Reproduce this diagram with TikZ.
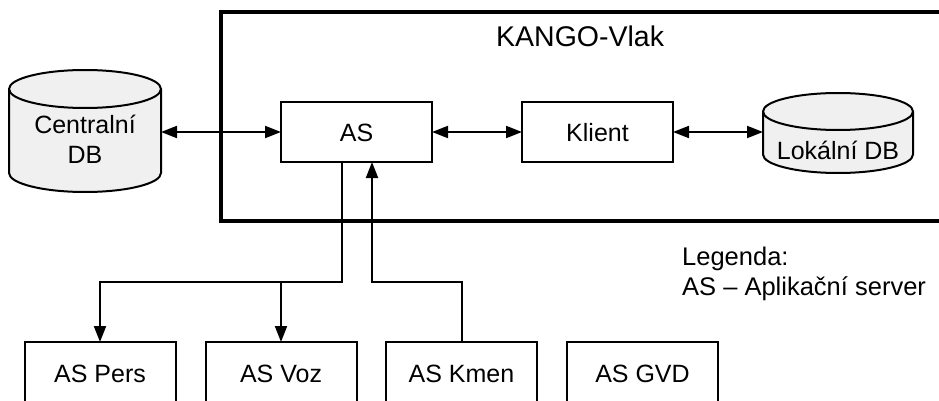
\documentclass[tikz,border=0pt]{standalone}
\usepackage{fontspec}
\setmainfont{Liberation Sans}
\usetikzlibrary{arrows.meta}
\definecolor{dbgray}{HTML}{F0F0F0}
\tikzset{
  box/.style={draw, line width=2pt, minimum width=151pt, minimum height=60pt, inner sep=0pt, outer sep=0pt,
    font=\fontsize{25}{30}\selectfont, text height=18pt, text depth=0pt},
  lowbox/.style={box, minimum height=62pt},
  conn/.style={line width=2pt},
  arr/.style={conn, -{Triangle[length=16pt,width=12pt]}},
  darr/.style={conn, {Triangle[length=16pt,width=12pt]}-{Triangle[length=16pt,width=12pt]}},
  dbshape/.style={draw, line width=2pt, fill=dbgray},
  lbl/.style={inner sep=0pt, font=\fontsize{25}{30}\selectfont},
}
\begin{document}
\begin{tikzpicture}[x=1pt,y=1pt]
\useasboundingbox (0,0) rectangle (939,-401);
\clip (0,0) rectangle (939,-401);
\fill[white] (0,0) rectangle (939,-401);

% KANGO-Vlak frame
\node[draw, line width=4pt, minimum width=760pt, minimum height=209.5pt, inner sep=0pt, outer sep=0pt]
  (kango) at (600.7,-116.7) {};
\node[inner sep=0pt, anchor=base west, font=\fontsize{28.5}{34}\selectfont] (kangolbl) at (496,-47) {KANGO-Vlak};

% Central DB cylinder
\draw[dbshape] (9,-89) -- (9,-173) arc[start angle=180, end angle=360, x radius=76, y radius=19]
  -- (161,-89) arc[start angle=0, end angle=180, x radius=76, y radius=19] -- cycle;
\draw[line width=2pt] (9,-89) arc[start angle=180, end angle=360, x radius=76, y radius=19];
\node[minimum width=152pt, minimum height=123pt, inner sep=0pt, outer sep=0pt] (cdb) at (85,-131.5) {};
\node[lbl, anchor=base] (cdbt1) at (85,-133) {Centralní};
\node[lbl, anchor=base] (cdbt2) at (85,-163) {DB};

% Lokalni DB cylinder
\draw[dbshape] (763,-111.5) -- (763,-154.5) arc[start angle=180, end angle=360, x radius=75, y radius=18.5]
  -- (913,-111.5) arc[start angle=0, end angle=180, x radius=75, y radius=18.5] -- cycle;
\draw[line width=2pt] (763,-111.5) arc[start angle=180, end angle=360, x radius=75, y radius=18.5];
\node[minimum width=150pt, minimum height=80pt, inner sep=0pt, outer sep=0pt] (ldb) at (838,-133) {};
\node[lbl, anchor=base] (ldbt) at (838,-159) {Lokální DB};

% Boxes
\node[box] (as) at (356.5,-132) {AS};
\node[box] (klient) at (597.5,-132) {Klient};

\node[lowbox] (pers) at (100,-373) {AS Pers};
\node[lowbox] (voz) at (281,-373) {AS Voz};
\node[lowbox] (kmen) at (461.5,-373) {AS Kmen};
\node[lowbox] (gvd) at (642.5,-373) {AS GVD};

% Connectors
\draw[darr] (as.west -| cdb.east) -- (as.west);
\draw[darr] (as.east) -- (klient.west);
\draw[darr] (klient.east) -- (klient.east -| ldb.west);

\coordinate (j1) at (342,-282);
\coordinate (j2) at (372,-282);
\draw[arr] (as.south -| j1) -- (j1) -| (pers.north);
\draw[arr] (voz.north |- j1) -- (voz.north);
\draw[arr] (kmen.north) |- (j2) -- (as.south -| j2);

% Legend
\node[inner sep=0pt, anchor=base west, font=\fontsize{25.5}{30}\selectfont] (leg1) at (682,-265) {Legenda:};
\node[inner sep=0pt, anchor=base west, font=\fontsize{25.5}{30}\selectfont] (leg2) at (682,-295) {AS – Aplikační server};
\end{tikzpicture}
\end{document}
